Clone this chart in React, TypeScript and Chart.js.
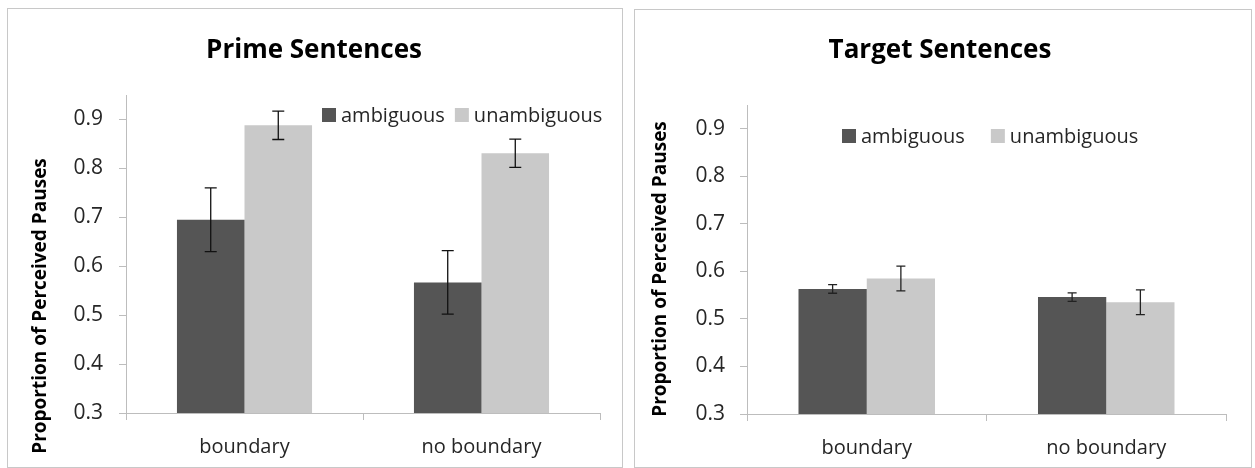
import React, { useEffect, useRef } from "react";
import { Chart, registerables } from "chart.js";

Chart.register(...registerables);

// ---------- data ----------
const categories = ["boundary", "no boundary"];
const seriesNames = ["ambiguous", "unambiguous"];
const seriesColors = ["#555555", "#c9c9c9"];

const primeAmbiguous = [0.695, 0.567];
const primeUnambiguous = [0.888, 0.831];
const primeAmbiguousErr = [0.065, 0.065];
const primeUnambiguousErr = [0.029, 0.029];

const targetAmbiguous = [0.563, 0.546];
const targetUnambiguous = [0.585, 0.535];
const targetAmbiguousErr = [0.009, 0.009];
const targetUnambiguousErr = [0.026, 0.026];

const yMin = 0.3;
const yMax = 0.95;
const yStep = 0.1;
const yTickMax = 0.9;

const yTitle = "Proportion of Perceived Pauses";

const FONT = "'Open Sans', 'Liberation Sans', sans-serif";
const TEXT = "#262626";

type Spec = {
  title: string;
  values: number[][];
  errors: number[][];
  box: { left: number; top: number; width: number; height: number };
  area: { left: number; top: number; right: number; bottomH: number };
  tickPad: number;
  titleX: number;
  titleY: number;
  legendX: number;
  legendY: number;
  legendGap: number;
  yTitleX: number;
  yTitleY: number;
  capHalf: number;
  errColor: string;
};

const specs: Spec[] = [
  {
    title: "Prime Sentences",
    values: [primeAmbiguous, primeUnambiguous],
    errors: [primeAmbiguousErr, primeUnambiguousErr],
    box: { left: 7, top: 8, width: 616, height: 460 },
    area: { left: 118, top: 86, right: 22, bottomH: 54 },
    tickPad: 16,
    titleX: 306,
    titleY: 49,
    legendX: 314,
    legendY: 106,
    legendGap: 10,
    yTitleX: 33,
    yTitleY: 297,
    capHalf: 6,
    errColor: "#111111",
  },
  {
    title: "Target Sentences",
    values: [targetAmbiguous, targetUnambiguous],
    errors: [targetAmbiguousErr, targetUnambiguousErr],
    box: { left: 634, top: 9, width: 618, height: 459 },
    area: { left: 112, top: 95, right: 25, bottomH: 53 },
    tickPad: 15,
    titleX: 305,
    titleY: 48,
    legendX: 207,
    legendY: 126,
    legendGap: 26,
    yTitleX: 26,
    yTitleY: 259,
    capHalf: 4.5,
    errColor: "#222222",
  },
];

function Panel({ spec }: { spec: Spec }) {
  const ref = useRef<HTMLCanvasElement>(null);
  const cw = spec.box.width - 2;
  const ch = spec.box.height - 2;

  useEffect(() => {
    const canvas = ref.current;
    if (!canvas) return;

    const overlay = {
      id: "overlay" + spec.title.replace(/\s/g, ""),
      afterDatasetsDraw(chart: any) {
        const ctx = chart.ctx as CanvasRenderingContext2D;
        const yScale = chart.scales.y;
        ctx.save();
        ctx.strokeStyle = spec.errColor;
        ctx.lineWidth = 1.3;
        spec.values.forEach((vals, di) => {
          const meta = chart.getDatasetMeta(di);
          vals.forEach((v, j) => {
            const e = spec.errors[di][j];
            const x = meta.data[j].x;
            const yTop = yScale.getPixelForValue(v + e);
            const yBot = yScale.getPixelForValue(v - e);
            ctx.beginPath();
            ctx.moveTo(x, yTop);
            ctx.lineTo(x, yBot);
            ctx.moveTo(x - spec.capHalf, yTop);
            ctx.lineTo(x + spec.capHalf, yTop);
            ctx.moveTo(x - spec.capHalf, yBot);
            ctx.lineTo(x + spec.capHalf, yBot);
            ctx.stroke();
          });
        });
        ctx.restore();
      },
      afterDraw(chart: any) {
        const ctx = chart.ctx as CanvasRenderingContext2D;
        ctx.save();
        // title
        ctx.fillStyle = "#000000";
        ctx.font = `bold 26px ${FONT}`;
        ctx.textAlign = "center";
        ctx.textBaseline = "alphabetic";
        ctx.fillText(spec.title, spec.titleX, spec.titleY);

        // legend
        ctx.font = `20px ${FONT}`;
        ctx.textAlign = "left";
        ctx.textBaseline = "middle";
        let x = spec.legendX;
        chart.data.datasets.forEach((ds: any) => {
          ctx.fillStyle = ds.backgroundColor;
          ctx.fillRect(x, spec.legendY - 7, 14, 14);
          ctx.fillStyle = TEXT;
          ctx.fillText(ds.label, x + 19, spec.legendY + 1);
          x += 19 + ctx.measureText(ds.label).width + spec.legendGap;
        });

        // y axis title
        ctx.translate(spec.yTitleX, spec.yTitleY);
        ctx.rotate(-Math.PI / 2);
        ctx.font = `bold 19px ${FONT}`;
        ctx.fillStyle = "#000000";
        ctx.textAlign = "center";
        ctx.textBaseline = "middle";
        ctx.fillText(yTitle, 0, 0);
        ctx.restore();
      },
    };

    const chart = new Chart(canvas, {
      type: "bar",
      data: {
        labels: categories,
        datasets: spec.values.map((vals, i) => ({
          label: seriesNames[i],
          data: vals,
          backgroundColor: seriesColors[i],
          borderWidth: 0,
          barPercentage: 1,
          categoryPercentage: 0.57,
        })),
      },
      options: {
        responsive: false,
        animation: false,
        devicePixelRatio: 1,
        layout: {
          padding: { left: 0, top: spec.area.top, right: spec.area.right, bottom: 0 },
        },
        plugins: {
          legend: { display: false },
          title: { display: false },
          tooltip: { enabled: false },
        },
        scales: {
          x: {
            type: "category",
            afterFit: (scale: any) => {
              scale.height = spec.area.bottomH;
            },
            grid: {
              display: true,
              offset: true,
              drawOnChartArea: false,
              drawTicks: true,
              tickLength: 7,
              color: "#bdbdbd",
            },
            border: { display: true, color: "#bdbdbd", width: 1 },
            ticks: {
              font: { family: FONT, size: 20 },
              color: TEXT,
              padding: 15,
              maxRotation: 0,
            },
          },
          y: {
            type: "linear",
            min: yMin,
            max: yMax,
            afterFit: (scale: any) => {
              scale.width = spec.area.left;
            },
            afterBuildTicks: (scale: any) => {
              scale.ticks = scale.ticks.filter((t: any) => t.value <= yTickMax + 1e-9);
            },
            grid: {
              display: true,
              drawOnChartArea: false,
              drawTicks: true,
              tickLength: 7,
              color: "#bdbdbd",
            },
            border: { display: true, color: "#bdbdbd", width: 1 },
            ticks: {
              stepSize: yStep,
              font: { family: FONT, size: 21 },
              color: TEXT,
              padding: spec.tickPad,
              callback: (v: any) => Number(v).toFixed(1),
            },
          },
        },
      },
      plugins: [overlay],
    } as any);

    return () => chart.destroy();
  }, []);

  return (
    <div
      style={{
        position: "absolute",
        left: spec.box.left,
        top: spec.box.top,
        width: spec.box.width,
        height: spec.box.height,
        border: "1px solid #c8c8c8",
        boxSizing: "border-box",
        background: "#ffffff",
      }}
    >
      <canvas ref={ref} width={cw} height={ch} style={{ display: "block", width: cw, height: ch }} />
    </div>
  );
}

export default function App() {
  return (
    <>
      {specs.map((s) => (
        <Panel key={s.title} spec={s} />
      ))}
    </>
  );
}
